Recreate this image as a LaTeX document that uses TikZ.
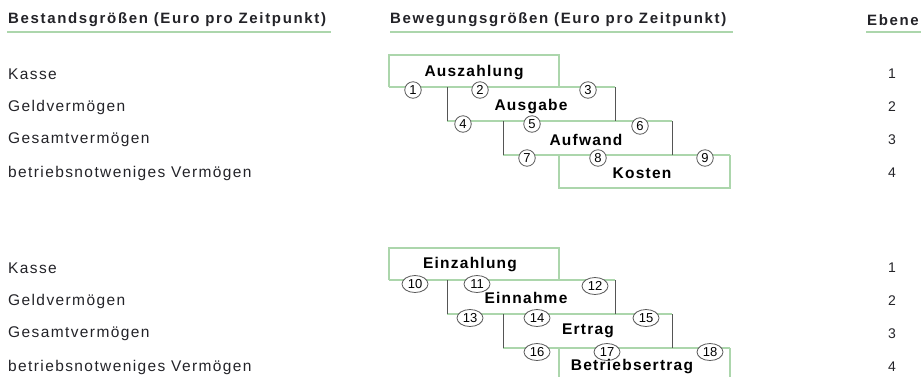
\documentclass[tikz,border=0pt]{standalone}
\usepackage{fontspec}
\setmainfont{Liberation Sans}[LetterSpace=9]
\usetikzlibrary{positioning,shapes.geometric}
\definecolor{boxgreen}{RGB}{172,214,172}
\definecolor{stemgray}{RGB}{85,85,85}
\definecolor{inkgray}{RGB}{35,35,40}

\tikzset{
  head/.style={font=\bfseries\fontsize{15}{17}\selectfont\addfontfeature{LetterSpace=11},
    text=inkgray, anchor=west, inner sep=0pt},
  rowtext/.style={font=\fontsize{15.5}{17}\selectfont, text=inkgray, anchor=west, inner sep=0pt},
  leveltext/.style={font=\fontsize{14}{16}\selectfont, text=inkgray, inner sep=0pt},
  flowtext/.style={font=\bfseries\fontsize{15.5}{17}\selectfont\addfontfeature{LetterSpace=8},
    text=black, inner sep=0pt},
  numone/.style={circle, draw=black!65, fill=white, line width=0.8pt, inner sep=0pt,
    minimum size=16.5pt, font=\fontsize{13}{13}\selectfont\addfontfeature{LetterSpace=0}},
  numtwo/.style={ellipse, draw=black!65, fill=white, line width=0.8pt, inner sep=0pt,
    minimum width=26pt, minimum height=17pt, font=\fontsize{13}{13}\selectfont\addfontfeature{LetterSpace=0}},
  greenline/.style={boxgreen, line width=2pt},
  underline/.style={boxgreen, line width=2.5pt},
  stem/.style={stemgray, line width=0.8pt},
}

\begin{document}
\begin{tikzpicture}[x=1pt, y=-1pt]
\useasboundingbox (0,0) rectangle (921,376);
\clip (0,0) rectangle (921,376);

% Headers
\node[head] (bestand) at (8,20) {Bestandsgrößen (Euro pro Zeitpunkt)};
\node[head] (bewegung) at (390,20) {Bewegungsgrößen (Euro pro Zeitpunkt)};
\node[head] (ebene) at (867,20) {Ebene};
\draw[underline] (7,32) -- (331,32);
\draw[underline] (390,32) -- (733,32);
\draw[underline] (866,32) -- (921,32);

% Rows and levels, both blocks
\foreach \oy/\blk in {0/a, 194/b} {
  \foreach \y/\name/\lvl in {74/Kasse/1, 107/Geldvermögen/2, 140/Gesamtvermögen/3,
      173/betriebsnotweniges Vermögen/4} {
    \node[rowtext] (row\blk\lvl) at (8,\y+\oy) {\name};
    \node[leveltext] (lvl\blk\lvl) at (892,\y+\oy) {\lvl};
  }
}

% Staircase, both blocks
\foreach \oy in {0,193} {
  \begin{scope}[yshift=-\oy pt]
    \draw[greenline] (389,87) -- (389,55) -- (559,55) -- (559,87);
    \draw[greenline] (389,87) -- (615,87);
    \draw[greenline] (447,121) -- (672,121);
    \draw[greenline] (503,155) -- (730,155);
    \draw[greenline] (559,155) -- (559,188) -- (730,188) -- (730,155);
    \draw[stem] (447,87) -- (447,121);
    \draw[stem] (615,87) -- (615,121);
    \draw[stem] (503,121) -- (503,155);
    \draw[stem] (672,121) -- (672,155);
  \end{scope}
}

% Payments side
\foreach \n/\x/\y in {1/413/90, 2/480/90, 3/588/90, 4/463/124, 5/532/124,
    6/640/126, 7/527/158, 8/598/158, 9/705/158}
  \node[numone] (m\n) at (\x,\y) {\n};
\node[flowtext] (auszahlung) at (474,73) {Auszahlung};
\node[flowtext] (ausgabe) at (531,107) {Ausgabe};
\node[flowtext] (aufwand) at (586,140) {Aufwand};
\node[flowtext] (kosten) at (642,173) {Kosten};

% Receipts side
\foreach \n/\x/\y in {10/415/284, 11/477/284, 12/595/286, 13/470/318, 14/537/318,
    15/646/318, 16/537/352, 17/607/352, 18/710/352}
  \node[numtwo] (m\n) at (\x,\y) {\n};
\node[flowtext] (einzahlung) at (470,265) {Einzahlung};
\node[flowtext] (einnahme) at (526,298) {Einnahme};
\node[flowtext] (ertrag) at (588,331) {Ertrag};
\node[flowtext] (betriebsertrag) at (632,367) {Betriebsertrag};
\end{tikzpicture}
\end{document}
